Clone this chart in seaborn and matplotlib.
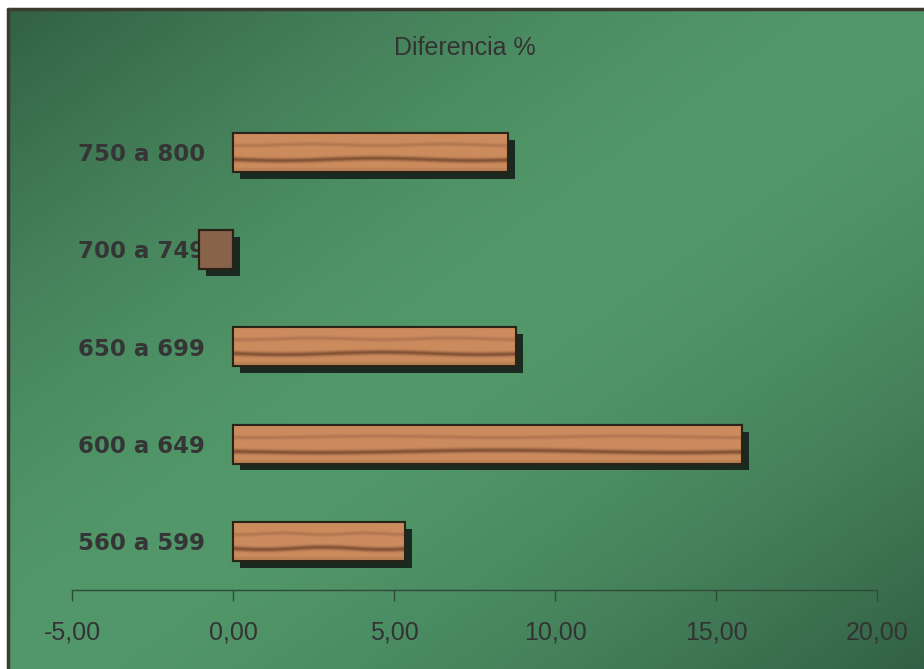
import matplotlib
matplotlib.use("Agg")
import matplotlib.pyplot as plt
import matplotlib.patheffects as pe
from matplotlib.patches import Rectangle
from matplotlib.ticker import FuncFormatter
from matplotlib.lines import Line2D
import seaborn as sns
import numpy as np

# datos
rangos = ["750 a 800", "700 a 749", "650 a 699", "600 a 649", "560 a 599"]
diferencia = [8.55, -1.05, 8.8, 15.8, 5.35]
ticks_x = [-5, 0, 5, 10, 15, 20]
titulo = "Diferencia %"

sns.set_style("white")
plt.rcParams['font.family'] = ['Liberation Sans', 'DejaVu Sans']

W, H = 924, 669
fig = plt.figure(figsize=(W / 100, H / 100), dpi=100)
fig.patch.set_facecolor("white")


def fondo_verde(n=300):
    """Degradado verde: oscuro en las esquinas sup-izq e inf-der."""
    xx = np.linspace(0, 1, n)[None, :]
    yy = np.linspace(0, 1, n)[:, None]
    t = np.abs(xx + yy - 1.0)
    t = np.clip(t, 0, 1) ** 1.6
    claro = np.array([82, 152, 106]) / 255
    oscuro = np.array([50, 96, 68]) / 255
    return claro * (1 - t[..., None]) + oscuro * t[..., None]


def textura_madera(h=60, w=400):
    yy = np.linspace(0, 1, h)[:, None]
    xx = np.linspace(0, 1, w)[None, :]
    claro = np.array([204, 140, 94]) / 255
    oscuro = np.array([118, 72, 46]) / 255
    veta = 0.85 * np.exp(-((yy - 0.68 - 0.03 * np.sin(xx * 9)) / 0.06) ** 2)
    veta2 = 0.3 * np.exp(-((yy - 0.3 - 0.02 * np.sin(xx * 13 + 1)) / 0.05) ** 2)
    veta3 = 0.2 * np.exp(-((yy - 0.95) / 0.05) ** 2)
    m = np.clip(veta + veta2 + veta3, 0, 1)
    return claro * (1 - m[..., None]) + oscuro * m[..., None]


# panel de fondo
bg = fig.add_axes([8 / W, 0, 1 - 8 / W, 660 / H], zorder=0)
bg.imshow(fondo_verde(), aspect="auto", extent=(0, 1, 0, 1))
bg.axis("off")
fig.add_artist(Line2D([8 / W, 8 / W], [0, 660 / H], color="#3b3b30", lw=2.5))
fig.add_artist(Line2D([8 / W, 1], [660 / H, 660 / H], color="#3b3b30", lw=2.5))

ax = fig.add_axes([72 / W, (H - 590) / H, (877 - 72) / W, (590 - 103.5) / H], zorder=1)
ax.set_facecolor("none")

sns.barplot(x=diferencia, y=rangos, orient="h", color="#94603f",
            width=0.4, edgecolor="#2a2418", linewidth=1.5, ax=ax)

ax.set_xlim(-5, 20)
ax.set_ylim(4.5, -0.5)

sombra = [pe.SimplePatchShadow(offset=(5, -5), shadow_rgbFace="#1a2a20", alpha=1), pe.Normal()]
for bar in ax.patches:
    bar.set_path_effects(sombra)
    bb = bar.get_bbox()
    if abs(bb.x1 - bb.x0) > 2:
        im = ax.imshow(textura_madera(), aspect="auto",
                       extent=(bb.x0, bb.x1, bb.y1, bb.y0), zorder=bar.get_zorder() + 0.1)
        im.set_clip_path(bar)
    borde = Rectangle((bb.x0, bb.y0), bb.x1 - bb.x0, bb.y1 - bb.y0, facecolor="none",
                      edgecolor="#2a2418", lw=1.5, zorder=bar.get_zorder() + 0.2)
    ax.add_patch(borde)

ax.set_xlim(-5, 20)
ax.set_ylim(4.5, -0.5)

ax.spines["left"].set_position(("data", 0))
ax.spines["left"].set_visible(False)
ax.spines["top"].set_visible(False)
ax.spines["right"].set_visible(False)
ax.spines["bottom"].set_color("#2f4a37")
ax.spines["bottom"].set_linewidth(1)

ax.set_xticks(ticks_x)
ax.xaxis.set_major_formatter(FuncFormatter(lambda v, p: f"{v:.2f}".replace(".", ",")))
ax.tick_params(axis="x", bottom=True, direction="out", length=8, width=1, color="#2f4a37",
               labelsize=18, labelcolor="#333333", pad=14)
ax.set_yticks(range(len(rangos)))
ax.set_yticklabels(rangos, fontweight="bold", fontsize=16.5, color="#353535",
                   family=["DejaVu Sans"])
ax.tick_params(axis="y", left=False, length=0, pad=20)
ax.set_xlabel("")
ax.set_ylabel("")

fig.text(465 / W, 1 - 48 / H, titulo, ha="center", va="center",
         fontsize=18, color="#333333")

fig.savefig("out.png", dpi=100)
